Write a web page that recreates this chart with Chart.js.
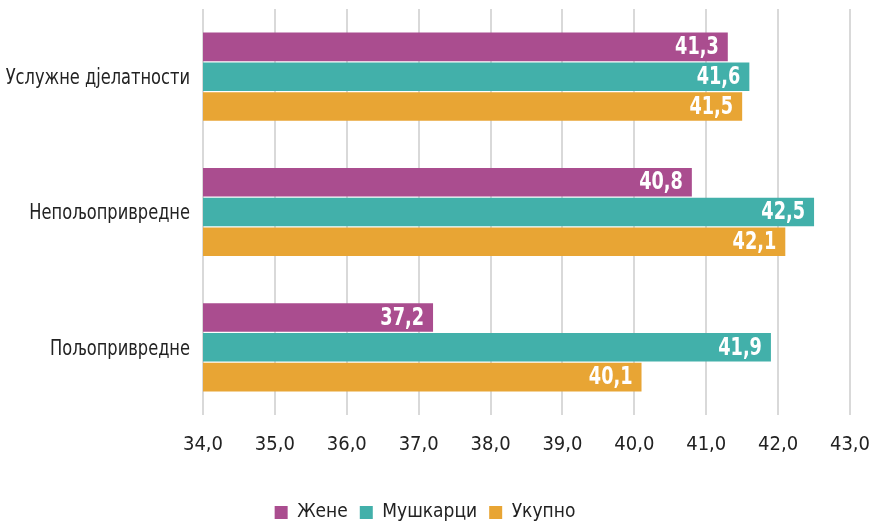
<!DOCTYPE html>
<html>
<head>
<meta charset="utf-8">
<script src="https://cdn.jsdelivr.net/npm/chart.js@4/dist/chart.umd.min.js"></script>
<style>
  html, body { margin: 0; padding: 0; background: #fff; }
  #wrap { width: 874px; height: 523px; }
</style>
</head>
<body>
<div id="wrap"><canvas id="hoursChart" width="874" height="523"></canvas></div>
<script>
// categories and series
var categories = ['Услужне дјелатности', 'Непољопривредне', 'Пољопривредне'];
var zene = [41.3, 40.8, 37.2];
var muskarci = [41.6, 42.5, 41.9];
var ukupno = [41.5, 42.1, 40.1];
var seriesNames = ['Жене', 'Мушкарци', 'Укупно'];
var xTicks = [34, 35, 36, 37, 38, 39, 40, 41, 42, 43];

var FONT = "'Liberation Sans Narrow', 'DejaVu Sans Condensed', 'Roboto Condensed', sans-serif";

function fmt(v) {
    return v.toFixed(1).replace('.', ',');
}

// right-aligned text squeezed horizontally, the original uses a condensed face
function narrowText(ctx, text, x, y, sx) {
    ctx.save();
    ctx.translate(x, y);
    ctx.scale(sx, 1);
    ctx.fillText(text, 0, 0);
    ctx.restore();
}

// category labels and value labels inside the end of each bar
var textLayer = {
    id: 'textLayer',
    afterDatasetsDraw: function (chart) {
        var ctx = chart.ctx;
        ctx.save();
        ctx.textAlign = 'right';
        ctx.textBaseline = 'middle';

        ctx.fillStyle = '#222';
        ctx.font = '21px ' + FONT;
        var yScale = chart.scales.y;
        categories.forEach(function (c, i) {
            narrowText(ctx, c, yScale.right - 13, yScale.getPixelForValue(i) + 2, 0.86);
        });

        ctx.fillStyle = '#ffffff';
        ctx.font = 'bold 24px ' + FONT;
        chart.data.datasets.forEach(function (ds, i) {
            chart.getDatasetMeta(i).data.forEach(function (bar, j) {
                narrowText(ctx, fmt(ds.data[j]), bar.x - 9, bar.y + 1, 0.82);
            });
        });
        ctx.restore();
    }
};

var ctx = document.getElementById('hoursChart').getContext('2d');
var hoursChart = new Chart(ctx, {
    type: 'bar',
    data: {
        labels: categories,
        datasets: [{
            label: seriesNames[0],
            data: zene,
            backgroundColor: '#AA4D8F'
        }, {
            label: seriesNames[1],
            data: muskarci,
            backgroundColor: '#42B0AA'
        }, {
            label: seriesNames[2],
            data: ukupno,
            backgroundColor: '#E8A534'
        }]
    },
    options: {
        indexAxis: 'y',
        responsive: false,
        animation: false,
        layout: {
            autoPadding: false,
            padding: { left: 0, right: 24, top: 9, bottom: -9 }
        },
        datasets: {
            bar: {
                categoryPercentage: 0.66,
                barPercentage: 0.96
            }
        },
        scales: {
            x: {
                min: 34,
                max: 43,
                afterBuildTicks: function (scale) {
                    scale.ticks = xTicks.map(function (v) { return { value: v }; });
                },
                afterFit: function (scale) {
                    scale.height = 76;
                    scale.paddingLeft = 0;
                    scale.paddingRight = 0;
                },
                grid: {
                    color: '#d9d9d9',
                    lineWidth: 2,
                    drawTicks: false
                },
                border: { display: false },
                ticks: {
                    padding: 18,
                    color: '#222',
                    font: { family: FONT, size: 20 },
                    callback: function (v) { return fmt(v); }
                }
            },
            y: {
                afterFit: function (scale) {
                    scale.width = 203;
                    scale.paddingTop = 0;
                    scale.paddingBottom = 0;
                },
                grid: { display: false, drawTicks: false },
                border: { display: false },
                ticks: { display: false }
            }
        },
        plugins: {
            legend: {
                position: 'bottom',
                labels: {
                    boxWidth: 13,
                    boxHeight: 13,
                    padding: 12,
                    color: '#222',
                    font: { family: FONT, size: 19 }
                }
            },
            tooltip: { enabled: false }
        }
    },
    plugins: [textLayer]
});
</script>
</body>
</html>
